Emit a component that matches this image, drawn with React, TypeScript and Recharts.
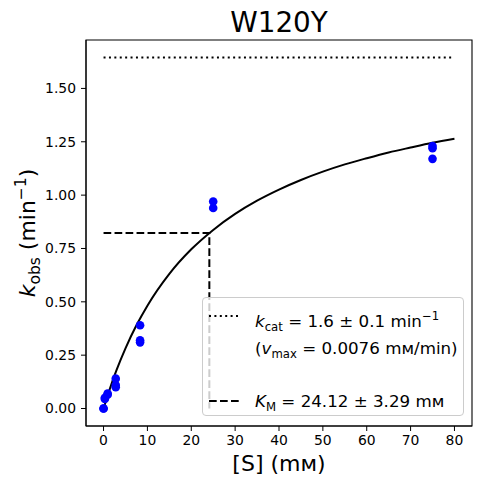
import React from 'react'
import { ComposedChart, Line, Scatter, XAxis, YAxis, ReferenceArea, Legend } from 'recharts'

const FONT = '"DejaVu Sans", sans-serif'

// fitted Michaelis-Menten curve
const curveS = [0, 1, 2, 3, 5, 7.5, 10, 15, 20, 25, 30, 35, 40, 45, 50, 55, 60, 65, 70, 75, 80]
const curveK = [0, 0.065, 0.126, 0.182, 0.282, 0.39, 0.482, 0.631, 0.746, 0.837, 0.912, 0.974, 1.026, 1.071, 1.11, 1.144, 1.173, 1.2, 1.223, 1.245, 1.264]

// observed rates
const obsS = [0, 0, 0.3, 0.3, 0.93, 0.93, 2.78, 2.78, 2.78, 8.33, 8.33, 8.33, 25, 25, 75, 75, 75]
const obsK = [0, 0, 0.045, 0.05, 0.065, 0.07, 0.14, 0.11, 0.1, 0.39, 0.32, 0.31, 0.97, 0.94, 1.23, 1.22, 1.17]

// kcat level and Km guide
const kcatS = [0, 80]
const kcatK = [1.645, 1.645]
const kmS = [0, 24.12, 24.12]
const kmK = [0.8225, 0.8225, 0]

const xTicks = [0, 10, 20, 30, 40, 50, 60, 70, 80]
const yTicks = [0, 0.25, 0.5, 0.75, 1, 1.25, 1.5]

const zip = (s: number[], k: number[]) => s.map((v, i) => ({ s: v, k: k[i] }))

const curveData = zip(curveS, curveK)
const obsData = zip(obsS, obsK)
const kcatData = zip(kcatS, kcatK)
const kmData = zip(kmS, kmK)

const sub = { fontSize: '0.7em', verticalAlign: 'sub' as const }
const sup = { fontSize: '0.7em', verticalAlign: 'super' as const }

function LegendBox () {
  const row = (top: number) => ({ position: 'absolute' as const, left: 52, top: top - 11, height: 22, lineHeight: '22px', whiteSpace: 'nowrap' as const })
  return (
    <div style={{ width: 262, height: 119, boxSizing: 'border-box', border: '1px solid #cccccc', borderRadius: 4, background: 'rgba(255,255,255,0.8)', position: 'relative', fontFamily: FONT, fontSize: 16.7, color: '#000' }}>
      <svg width={40} height={119} style={{ position: 'absolute', left: 0, top: 0 }}>
        <line x1={6} x2={36} y1={18} y2={18} stroke="#000" strokeWidth={2} strokeDasharray="2 3.4" />
        <line x1={6} x2={36} y1={103} y2={103} stroke="#000" strokeWidth={2} strokeDasharray="7.7 3.3" />
      </svg>
      <div style={row(18)}><i>k</i><span style={sub}>cat</span> = 1.6 ± 0.1 min<span style={sup}>−1</span></div>
      <div style={row(50)}>(<i>v</i><span style={sub}>max</span> = 0.0076 mᴍ/min)</div>
      <div style={row(103)}><i>K</i><span style={sub}>M</span> = 24.12 ± 3.29 mᴍ</div>
    </div>
  )
}

export default function App () {
  const tick = { fill: '#000', fontSize: 13.9, fontFamily: FONT }
  return (
    <div style={{ position: 'absolute', left: 0, top: 0, width: 482, height: 484, background: '#fff' }}>
      <ComposedChart width={482} height={484} margin={{ top: 40, right: 10, bottom: 28, left: 36 }}>
        <XAxis
          type="number"
          dataKey="s"
          domain={[-4, 84]}
          ticks={xTicks}
          allowDataOverflow
          height={30}
          tick={tick}
          tickSize={5}
          tickMargin={4}
          stroke="#000"
        />
        <YAxis
          type="number"
          dataKey="k"
          domain={[-0.082, 1.727]}
          ticks={yTicks}
          allowDataOverflow
          width={50}
          tick={tick}
          tickSize={5}
          tickMargin={5}
          stroke="#000"
          tickFormatter={(v: number) => v.toFixed(2)}
        />
        <ReferenceArea x1={-4} x2={84} y1={-0.082} y2={1.727} fill="none" stroke="#000" strokeWidth={1.1} />
        <Scatter
          data={obsData}
          dataKey="k"
          isAnimationActive={false}
          shape={(p: any) => <circle cx={p.cx} cy={p.cy} r={4.3} fill="#0000ff" />}
        />
        <Line data={curveData} dataKey="k" type="monotone" stroke="#000" strokeWidth={2} dot={false} activeDot={false} isAnimationActive={false} />
        <Line data={kcatData} dataKey="k" type="linear" stroke="#000" strokeWidth={2} strokeDasharray="2 3.4" dot={false} activeDot={false} isAnimationActive={false} />
        <Line data={kmData} dataKey="k" type="linear" stroke="#000" strokeWidth={2} strokeDasharray="7.7 3.3" dot={false} activeDot={false} isAnimationActive={false} />
        <Legend
          layout="vertical"
          align="center"
          verticalAlign="middle"
          content={() => <LegendBox />}
          wrapperStyle={{ left: 202, top: 297, width: 262, height: 119 }}
        />
        <text x={279} y={32} textAnchor="middle" fontFamily={FONT} fontSize={27.8} fill="#000">W120Y</text>
        <text x={279} y={471} textAnchor="middle" fontFamily={FONT} fontSize={22} fill="#000">[S] (mᴍ)</text>
        <text x={35} y={233} textAnchor="middle" transform="rotate(-90 35 233)" fontFamily={FONT} fontSize={22} fill="#000">
          <tspan fontStyle="italic">k</tspan>
          <tspan fontSize={15.5} dy={5}>obs</tspan>
          <tspan dy={-5}> (min</tspan>
          <tspan fontSize={15.5} dy={-9}>−1</tspan>
          <tspan dy={9}>)</tspan>
        </text>
      </ComposedChart>
    </div>
  )
}
